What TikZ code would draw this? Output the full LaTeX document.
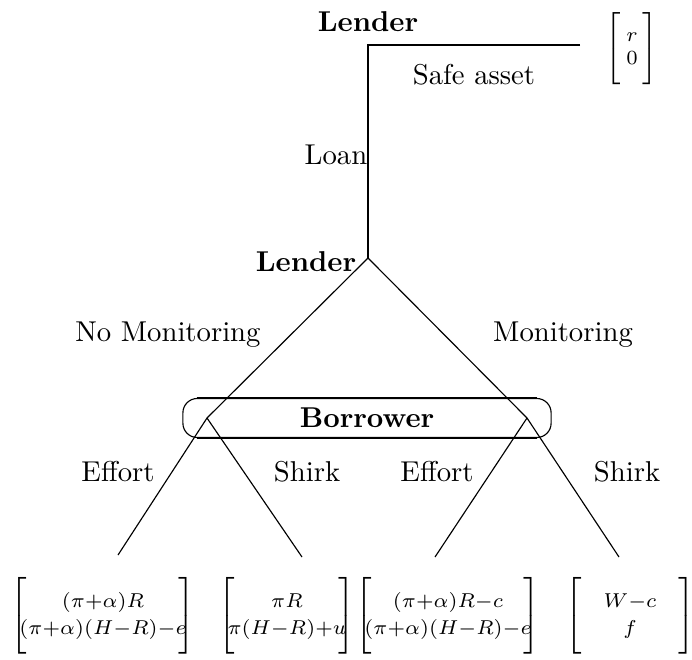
\documentclass[tikz,border=0pt]{standalone}
\usepackage{amsmath}
\usetikzlibrary{positioning,fit}

\newcommand{\payvec}[3][28pt]{$\left[\vphantom{\rule[-12pt]{0pt}{#1}}\mkern-6mu\begin{array}{@{}c@{}}#2\\#3\end{array}\mkern-6mu\right]$}

\begin{document}
\begin{tikzpicture}[x=0.3484pt,y=-0.3484pt,
    trunk/.style={line width=0.8pt},
    move/.style={line width=0.4pt},
    player/.style={font=\bfseries},
    payoff/.style={font=\fontsize{7.5}{9.4}\selectfont,inner sep=0pt},
    every fit/.style={draw,rounded corners=5pt,inner xsep=8.4pt,inner ysep=6.8pt}
  ]
  \useasboundingbox (0,0) rectangle (692,659);

  % the decision points
  \coordinate (l0) at (368,45);
  \coordinate (sa) at (580,45);
  \coordinate (l1) at (368,258);
  \coordinate (b1) at (207,418);
  \coordinate (b2) at (527,418);

  % the end points
  \foreach \i/\xcoord/\ycoord in {1/118/555,2/302/557,3/435/557,4/619/557}
    \coordinate (t\i) at (\xcoord,\ycoord);

  % the players
  \node[player] (n0) at (368,22) {Lender};
  \node[player] (n1) at (306,262) {Lender};

  % the information set of the borrower
  \node[fit=(b1) (b2),label=center:\textbf{Borrower}] (bset) {};
  \draw[line width=0.8pt] ([xshift=5pt]bset.north west) -- ([xshift=-5pt]bset.north east);
  \draw[line width=0.8pt] ([xshift=5pt]bset.south west) -- ([xshift=-5pt]bset.south east);

  % the moves
  \draw[trunk] (sa) -- (l0) -- (l1);
  \draw[move] (l1) -- (b1);
  \draw[move] (l1) -- (b2);
  \draw[move] (b1) -- (t1);
  \draw[move] (b1) -- (t2);
  \draw[move] (b2) -- (t3);
  \draw[move] (b2) -- (t4);

  % the actions
  \node (safe) at (474,75) {Safe asset};
  \node (loan) at (336,155) {Loan};
  \node (nomon) at (168,335) {No Monitoring};
  \node (mon) at (563,335) {Monitoring};
  \foreach \i/\xcoord/\act in {1/118/Effort,2/307/Shirk,3/437/Effort,4/627/Shirk}
    \node (a\i) at (\xcoord,472) {\act};

  % the payoffs
  \node[payoff,font=\scriptsize] (p0) at (632,50) {\payvec[25pt]{\makebox[13pt]{$r$}}{0}};
  \node[payoff] (p1) at (103,615) {\payvec{(\pi{+}\alpha)R}{(\pi{+}\alpha)(H{-}R){-}e}};
  \node[payoff] (p2) at (287,615) {\payvec{\pi R}{\pi(H{-}R){+}u}};
  \node[payoff] (p3) at (448,615) {\payvec{(\pi{+}\alpha)R{-}c}{(\pi{+}\alpha)(H{-}R){-}e}};
  \node[payoff] (p4) at (630,615) {\payvec{\makebox[39pt]{$W{-}c$}}{f}};
\end{tikzpicture}
\end{document}
